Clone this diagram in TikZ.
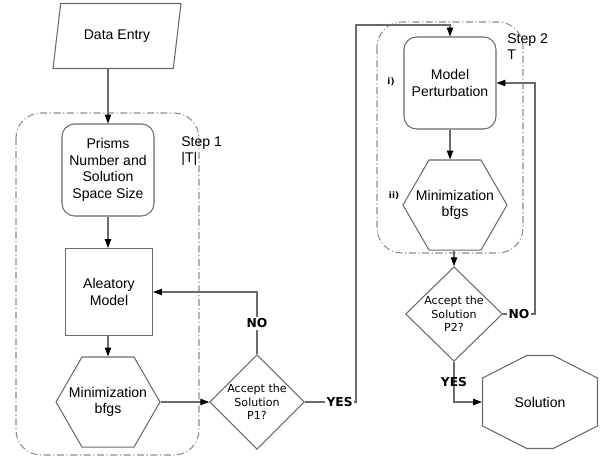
\documentclass[tikz,border=0pt]{standalone}
\usepackage{fontspec}
\setmainfont{Liberation Sans}
\newfontfamily\dejavu{DejaVu Sans}
\usetikzlibrary{shapes.geometric, shapes.misc, arrows.meta}
\definecolor{edge}{HTML}{6A6A6A}
\definecolor{frame}{HTML}{8C8C8C}

\begin{document}
\begin{tikzpicture}[x=0.02cm, y=-0.02cm, font=\fontsize{8}{9.5}\selectfont,
    block/.style={draw=edge, line width=0.6pt, align=center},
    roundbox/.style={block, rectangle, rounded corners=0.25cm, minimum size=1.84cm, inner sep=1pt},
    hexa/.style={block, regular polygon, regular polygon sides=6, minimum size=2.08cm, inner sep=0pt,
        label={[align=center]center:Minimization\\bfgs}},
    decide/.style={block, diamond, aspect=1, inner sep=0pt, font=\dejavu\fontsize{6.3}{7.6}\selectfont},
    flow/.style={draw=edge, line width=0.6pt, -{Triangle[length=5pt, width=3.6pt, color=black]}},
    answer/.style={font=\dejavu\bfseries\fontsize{7}{8}\selectfont, inner sep=1pt},
    stepframe/.style={draw=frame, line width=0.6pt, dash pattern=on 4pt off 1.5pt on 0.6pt off 1.5pt, rounded corners=0.5cm},
    tag/.style={font=\dejavu\bfseries\fontsize{5}{6}\selectfont, inner sep=0pt}]
    \useasboundingbox (0,0) rectangle (601,457);
    % step frames
    \draw[stepframe] (16,113) rectangle (199,455);
    \draw[stepframe] (377,22) rectangle (523,253);
    \node[anchor=north west, align=left, inner sep=0pt] (step1) at (181,136) {Step 1\\|T|};
    \node[anchor=north west, align=left, inner sep=0pt] (step2) at (507,33) {Step 2\\T};
    % step 1
    \node[block, trapezium, trapezium left angle=64.5, trapezium right angle=115.5, trapezium stretches body,
          minimum width=2.56cm, minimum height=1.3cm, inner sep=1pt] (data) at (117,36) {Data Entry};
    \node[roundbox] (prisms) at (108,170) {Prisms\\Number and\\Solution\\Space Size};
    \node[block, rectangle, minimum size=1.74cm] (alea) at (109,292) {Aleatory\\Model};
    \node[hexa] (min1) at (108,402) {};
    \node[decide, minimum width=1.76cm, minimum height=1.72cm] (p1) at (257,402) {Accept the\\Solution\\P1?};
    % step 2
    \node[roundbox] (pert) at (450,83) {Model\\Perturbation};
    \node[hexa] (min2) at (455,205) {};
    \node[decide, minimum width=1.94cm, minimum height=1.72cm] (p2) at (454,314) {Accept the\\Solution\\P2?};
    \node[block, chamfered rectangle, chamfered rectangle xsep=0.26cm, chamfered rectangle ysep=0.52cm,
          chamfered rectangle angle=63, minimum width=2.3cm, minimum height=1.86cm] (sol) at (540,402) {Solution};
    \node[tag] (t1) at (391,82) {i)};
    \node[tag] (t2) at (394,196) {ii)};
    \coordinate (up1) at (356,25);
    % connectors
    \draw[flow] (data.south -| prisms.north) -- (prisms.north);
    \draw[flow] (prisms.south) -- (prisms.south |- alea.north);
    \draw[flow] (alea.south -| prisms.south) -- (min1.north -| prisms.south);
    \draw[flow] (min1.east) -- (p1.west);
    \draw[flow] (p1.north) |- (alea.east) node[answer, pos=0.25, fill=white] {NO};
    \draw[flow] (p1.east) -- (p1.east -| up1) node[answer, pos=0.68, fill=white] {YES}
        -- (up1) -| (pert.north);
    \draw[flow] (pert.south) -- (pert.south |- min2.north);
    \draw[flow] (min2.south -| p2.north) -- (p2.north);
    \draw[flow] (p2.east) -| (535,83) node[answer, pos=0.25, fill=white] {NO} -- (pert.east);
    \draw[flow] (p2.south) |- (sol.west) node[answer, pos=0.25] {YES};
\end{tikzpicture}
\end{document}
